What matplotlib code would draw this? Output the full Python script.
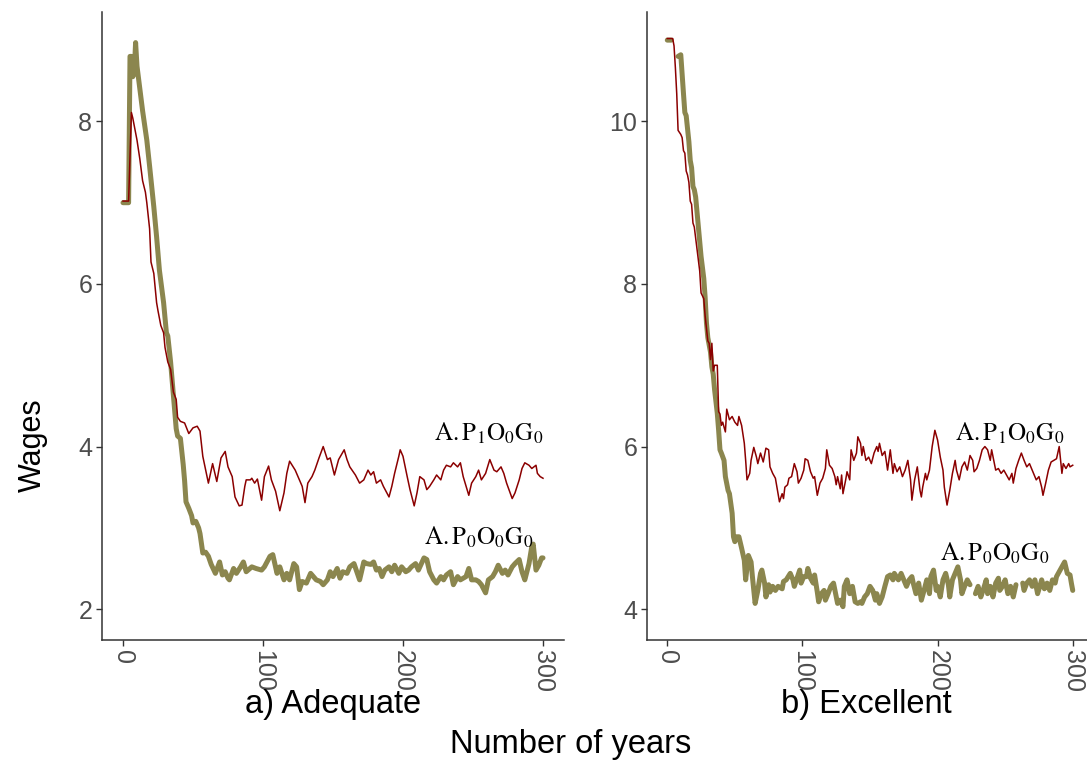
import numpy as np
import matplotlib
matplotlib.use("Agg")
import matplotlib.pyplot as plt

plt.rcParams['font.family'] = ['Liberation Sans', 'DejaVu Sans']
plt.rcParams['mathtext.fontset'] = 'stix'

# ---- data ----
# a) Adequate, A.P1O0G0
a_p1_years = [0, 4, 6, 7, 10, 12, 14, 16, 17, 19, 20, 22, 24, 25, 27, 29, 30, 32, 34, 36,
              38, 39, 41, 44, 47, 50, 53, 55, 57, 61, 64, 67, 70, 73, 75, 78, 80, 83, 85, 87,
              88, 91, 92, 94, 96, 99, 101, 104, 106, 109, 112, 115, 117, 119, 123, 125, 128, 130, 132, 135,
              137, 140, 143, 146, 148, 151, 154, 158, 160, 162, 166, 169, 172, 175, 177, 179, 181, 184, 186, 190,
              192, 194, 197, 198, 200, 203, 205, 208, 210, 212, 215, 217, 219, 222, 224, 227, 229, 231, 234, 236,
              239, 241, 243, 247, 249, 252, 254, 256, 259, 262, 265, 267, 270, 272, 274, 278, 280, 283, 285, 287,
              290, 292, 295, 296, 298, 300]
a_p1_wages = [7.02, 7.02, 8.11, 8.04, 7.77, 7.54, 7.27, 7.13, 7.0, 6.68, 6.27, 6.13, 5.77, 5.67, 5.49, 5.40, 5.22, 5.04, 4.95, 4.67,
              4.58, 4.36, 4.31, 4.29, 4.16, 4.23, 4.25, 4.19, 3.88, 3.55, 3.79, 3.57, 3.86, 3.94, 3.75, 3.63, 3.38, 3.27, 3.28, 3.51,
              3.59, 3.59, 3.61, 3.55, 3.60, 3.34, 3.63, 3.76, 3.59, 3.45, 3.21, 3.43, 3.67, 3.82, 3.71, 3.63, 3.51, 3.31, 3.55, 3.63,
              3.71, 3.86, 4.0, 3.84, 3.86, 3.65, 3.84, 3.96, 3.84, 3.75, 3.65, 3.55, 3.59, 3.71, 3.65, 3.69, 3.55, 3.59, 3.51, 3.38,
              3.51, 3.67, 3.88, 3.96, 3.88, 3.63, 3.47, 3.27, 3.43, 3.63, 3.59, 3.47, 3.51, 3.59, 3.65, 3.59, 3.71, 3.77, 3.75, 3.80,
              3.75, 3.80, 3.63, 3.40, 3.55, 3.63, 3.71, 3.59, 3.67, 3.84, 3.71, 3.69, 3.75, 3.67, 3.55, 3.36, 3.43, 3.59, 3.73, 3.80,
              3.77, 3.73, 3.77, 3.67, 3.63, 3.61]

# a) Adequate, A.P0O0G0
a_p0_years = [0, 4, 5, 6, 7, 8, 9, 10, 12, 14, 17, 19, 22, 23, 24, 26, 29, 31, 32, 34,
              36, 38, 39, 41, 43, 44, 45, 47, 49, 50, 52, 54, 55, 57, 59, 61, 63, 66, 69, 71,
              73, 75, 76, 79, 81, 84, 86, 88, 92, 95, 99, 101, 105, 107, 110, 112, 115, 117, 119, 122,
              124, 126, 128, 131, 134, 136, 138, 141, 143, 146, 148, 150, 153, 155, 157, 160, 162, 165, 167, 169,
              172, 174, 177, 179, 181, 183, 185, 187, 190, 192, 194, 197, 199, 202, 204, 206, 209, 211, 215, 217,
              219, 222, 224, 227, 229, 231, 234, 236, 239, 241, 245, 247, 249, 252, 254, 256, 259, 261, 264, 266,
              268, 271, 273, 275, 278, 280, 283, 285, 287, 290, 292, 293, 295, 297, 299, 300]
a_p0_wages = [7.0, 7.0, 8.8, 8.8, 8.55, 8.6, 8.97, 8.68, 8.40, 8.13, 7.77, 7.45, 6.95, 6.77, 6.58, 6.17, 5.77, 5.40, 5.36, 5.04,
              4.63, 4.22, 4.13, 4.10, 3.78, 3.58, 3.32, 3.24, 3.15, 3.06, 3.08, 3.0, 2.93, 2.69, 2.70, 2.65, 2.55, 2.44, 2.58, 2.42,
              2.46, 2.38, 2.36, 2.50, 2.44, 2.52, 2.58, 2.46, 2.52, 2.50, 2.48, 2.52, 2.65, 2.67, 2.44, 2.52, 2.36, 2.44, 2.36, 2.56,
              2.52, 2.24, 2.34, 2.32, 2.44, 2.40, 2.36, 2.34, 2.30, 2.36, 2.46, 2.40, 2.50, 2.38, 2.46, 2.44, 2.52, 2.56, 2.46, 2.36,
              2.58, 2.56, 2.55, 2.58, 2.48, 2.50, 2.40, 2.48, 2.52, 2.46, 2.54, 2.44, 2.52, 2.46, 2.48, 2.52, 2.56, 2.48, 2.63, 2.61,
              2.46, 2.36, 2.32, 2.40, 2.36, 2.42, 2.46, 2.30, 2.40, 2.36, 2.40, 2.50, 2.36, 2.36, 2.34, 2.30, 2.20, 2.36, 2.40, 2.46,
              2.54, 2.44, 2.48, 2.42, 2.52, 2.56, 2.61, 2.46, 2.36, 2.56, 2.77, 2.80, 2.48, 2.54, 2.63, 2.63]

# b) Excellent, A.P1O0G0
b_p1_years = [0, 4, 5, 6, 7, 8, 10, 11, 12, 13, 14, 15, 16, 17, 18, 19, 20, 22, 24, 25,
              27, 28, 30, 31, 32, 33, 34, 35, 37, 38, 39, 40, 41, 43, 44, 46, 48, 50, 52, 53,
              55, 57, 58, 59, 61, 62, 64, 66, 67, 69, 71, 73, 75, 76, 78, 80, 82, 83, 85, 86,
              87, 89, 90, 92, 94, 96, 97, 99, 101, 102, 104, 106, 108, 109, 111, 113, 115, 117, 118, 120,
              122, 124, 125, 126, 128, 129, 130, 132, 133, 135, 136, 138, 140, 141, 143, 144, 145, 147, 149, 151,
              153, 155, 156, 157, 159, 161, 162, 163, 165, 167, 168, 170, 172, 174, 176, 178, 180, 181, 183, 185,
              187, 188, 189, 191, 192, 194, 196, 198, 200, 202, 204, 205, 207, 209, 211, 213, 214, 216, 218, 220,
              222, 224, 226, 227, 229, 231, 233, 235, 237, 239, 240, 242, 243, 245, 247, 249, 251, 253, 255, 256,
              258, 260, 262, 264, 266, 268, 269, 271, 273, 275, 277, 278, 280, 282, 284, 286, 288, 290, 291, 292,
              293, 295, 297, 298, 300]
b_p1_wages = [11.02, 11.02, 10.93, 10.66, 10.34, 9.89, 9.84, 9.80, 9.64, 9.61, 9.39, 9.34, 9.25, 9.02, 8.98, 8.75, 8.70, 8.43, 8.16, 7.89,
              7.82, 7.61, 7.30, 7.27, 7.07, 7.27, 6.93, 7.0, 7.0, 6.43, 6.40, 6.26, 6.30, 6.18, 6.46, 6.33, 6.37, 6.30, 6.26, 6.37,
              6.26, 6.04, 5.83, 5.59, 5.67, 5.83, 5.99, 5.87, 5.79, 5.92, 5.81, 5.98, 5.96, 5.75, 5.67, 5.61, 5.42, 5.32, 5.42, 5.36,
              5.50, 5.53, 5.61, 5.63, 5.79, 5.69, 5.55, 5.61, 5.71, 5.85, 5.83, 5.69, 5.61, 5.63, 5.40, 5.55, 5.61, 5.73, 5.96, 5.77,
              5.73, 5.63, 5.53, 5.63, 5.48, 5.65, 5.42, 5.59, 5.69, 5.59, 5.96, 5.83, 5.92, 6.12, 6.04, 5.89, 6.0, 5.83, 5.87, 5.79,
              5.92, 6.0, 5.94, 6.04, 5.89, 5.94, 5.83, 5.71, 5.96, 5.67, 5.79, 5.69, 5.75, 5.63, 5.71, 5.83, 5.59, 5.34, 5.59, 5.75,
              5.46, 5.38, 5.50, 5.67, 5.59, 5.71, 6.0, 6.20, 6.08, 5.87, 5.71, 5.50, 5.28, 5.46, 5.67, 5.83, 5.71, 5.59, 5.75, 5.81,
              5.71, 5.89, 5.83, 5.69, 5.73, 5.83, 5.96, 6.0, 5.96, 5.83, 5.96, 5.79, 5.71, 5.73, 5.67, 5.71, 5.65, 5.59, 5.67, 5.55,
              5.73, 5.83, 5.92, 5.83, 5.75, 5.79, 5.75, 5.67, 5.59, 5.63, 5.50, 5.40, 5.55, 5.71, 5.81, 5.83, 5.85, 6.0, 5.83, 5.67,
              5.79, 5.73, 5.79, 5.75, 5.77]

# b) Excellent, A.P0O0G0 (nan = missing years, gaps in the line)
nan = np.nan
b_p0_years = [0, 3, 5, 8, 10, 11, 12, 13, 14, 16, 17, 18, 19, 20, 21, 23, 24, 25, 27, 28,
              29, 30, 32, 33, 34, 35, 37, 38, 39, 40, 42, 43, 45, 46, 48, 49, 50, 51, 53, 55,
              57, 58, 60, 62, 63, 65, 67, 69, 70, 72, 73, 75, 76, 78, 80, 82, 85, 86, 88, 91,
              93, 94, 96, 98, 99, 101, 103, 104, 106, 108, 109, 111, 112, 114, 116, 117, 119, 121, 123, 125,
              126, 128, 130, 131, 133, 135, 137, 139, 141, 143, 144, 146, 148, 150, 152, 154, 155, 157, 159, 161,
              163, 165, 167, 168, 171, 173, 175, 177, 179, 181, 182, 184, 186, 188, 190, 192, 194, 195, 197, 199,
              200, 202, 204, 206, 208, 209, 211, 213, 215, 217, 218, 220, 222, 224, 226, 228, 230, 232, 234, 236,
              237, 239, 241, 243, 245, 246, 248, 250, 252, 254, 256, 258, 260, 263, 264, 266, 268, 270, 272, 274,
              276, 277, 279, 281, 283, 285, 287, 288, 290, 292, 294, 296, 298, 299, 300]
b_p0_wages = [11.0, 11.0, nan, 10.80, 10.82, 10.57, 10.34, 10.11, 10.07, 9.75, 9.52, 9.43, 9.20, 9.16, 9.07, 8.70, 8.52, 8.34, 8.07, 7.84,
              7.52, 7.34, 7.16, 6.98, 6.89, 6.70, 6.41, 6.20, 5.96, 5.92, 5.83, 5.63, 5.46, 5.42, 5.18, 4.89, 4.83, 4.89, 4.89, 4.75,
              4.60, 4.36, 4.66, 4.58, 4.40, 4.07, 4.23, 4.44, 4.48, 4.32, 4.15, 4.30, 4.21, 4.28, 4.23, 4.28, 4.25, 4.34, 4.36, 4.44,
              4.36, 4.28, 4.38, 4.48, 4.32, 4.40, 4.40, 4.50, 4.38, 4.32, 4.42, 4.21, 4.09, 4.19, 4.23, 4.11, 4.19, 4.28, 4.32, 4.15,
              4.07, 4.11, 4.03, 4.28, 4.36, 4.19, 4.28, 4.09, 4.07, 4.09, 4.07, 4.15, 4.19, 4.28, 4.23, 4.11, 4.19, 4.07, 4.15, 4.28,
              4.40, 4.42, 4.36, 4.44, 4.36, 4.44, 4.36, 4.28, 4.36, 4.40, 4.32, 4.19, 4.32, 4.11, 4.23, 4.36, 4.19, 4.40, 4.48, 4.23,
              4.28, 4.15, 4.36, 4.44, 4.30, 4.15, 4.36, 4.44, 4.52, 4.36, 4.19, 4.28, 4.36, 4.30, nan, 4.19, 4.28, 4.15, 4.25, 4.36,
              4.19, 4.28, 4.15, 4.32, 4.38, 4.23, 4.28, 4.36, 4.19, 4.28, 4.15, 4.30, nan, 4.32, 4.23, 4.32, 4.36, 4.28, 4.36, 4.19,
              4.30, 4.36, 4.25, 4.32, 4.23, 4.36, 4.32, 4.40, 4.46, 4.52, 4.58, 4.44, 4.42, 4.32, 4.23]

panel_titles = ['a) Adequate', 'b) Excellent']
label_p1 = r'$\mathrm{A{.}P_1O_0G_0}$'
label_p0 = r'$\mathrm{A{.}P_0O_0G_0}$'

RED = '#8B0000'
OLIVE = '#8B864E'
AXIS = '#333333'
TICKLAB = '#4D4D4D'

W, H = 1087, 760
fig = plt.figure(figsize=(W / 100, H / 100), dpi=100)
ax1 = fig.add_axes([102 / W, 1 - 640 / H, 462 / W, 627.5 / H])
ax2 = fig.add_axes([647 / W, 1 - 640 / H, 446 / W, 627.5 / H])


def style(ax, yticks, ylim):
    ax.set_xlim(-15, 315)
    ax.set_ylim(*ylim)
    ax.set_xticks([0, 100, 200, 300])
    ax.set_yticks(yticks)
    for s in ['top', 'right']:
        ax.spines[s].set_visible(False)
    for s in ['left', 'bottom']:
        ax.spines[s].set_color(AXIS)
        ax.spines[s].set_linewidth(1.1)
    ax.tick_params(length=4, width=1, color=AXIS, labelcolor=TICKLAB, labelsize=18, pad=3)
    ax.tick_params(axis='x', labelrotation=-90)
    for lab in ax.get_xticklabels():
        lab.set_va('top')
        lab.set_ha('center')


# panel a
ax1.plot(a_p0_years, a_p0_wages, color=OLIVE, lw=3.6, solid_capstyle='round', solid_joinstyle='round')
ax1.plot(a_p1_years, a_p1_wages, color=RED, lw=1.1)
style(ax1, [2, 4, 6, 8], (1.62, 9.34))
ax1.text(300, 4.17, label_p1, ha='right', va='center', fontsize=18)
ax1.text(293, 2.89, label_p0, ha='right', va='center', fontsize=18)

# panel b
ax2.plot(b_p0_years, b_p0_wages, color=OLIVE, lw=3.6, solid_capstyle='round', solid_joinstyle='round')
ax2.plot(b_p1_years, b_p1_wages, color=RED, lw=1.1)
style(ax2, [4, 6, 8, 10], (3.62, 11.34))
ax2.text(294, 6.17, label_p1, ha='right', va='center', fontsize=18)
ax2.text(283, 4.69, label_p0, ha='right', va='center', fontsize=18)

fig.text(333 / W, 1 - 704 / H, panel_titles[0], ha='center', va='center', fontsize=23.5)
fig.text(866 / W, 1 - 704 / H, panel_titles[1], ha='center', va='center', fontsize=23.5)
fig.text(571 / W, 1 - 744 / H, 'Number of years', ha='center', va='center', fontsize=23.5)
fig.text(33 / W, 1 - 445 / H, 'Wages', ha='center', va='center', rotation=90, fontsize=22)

fig.savefig('out.png', dpi=100)
